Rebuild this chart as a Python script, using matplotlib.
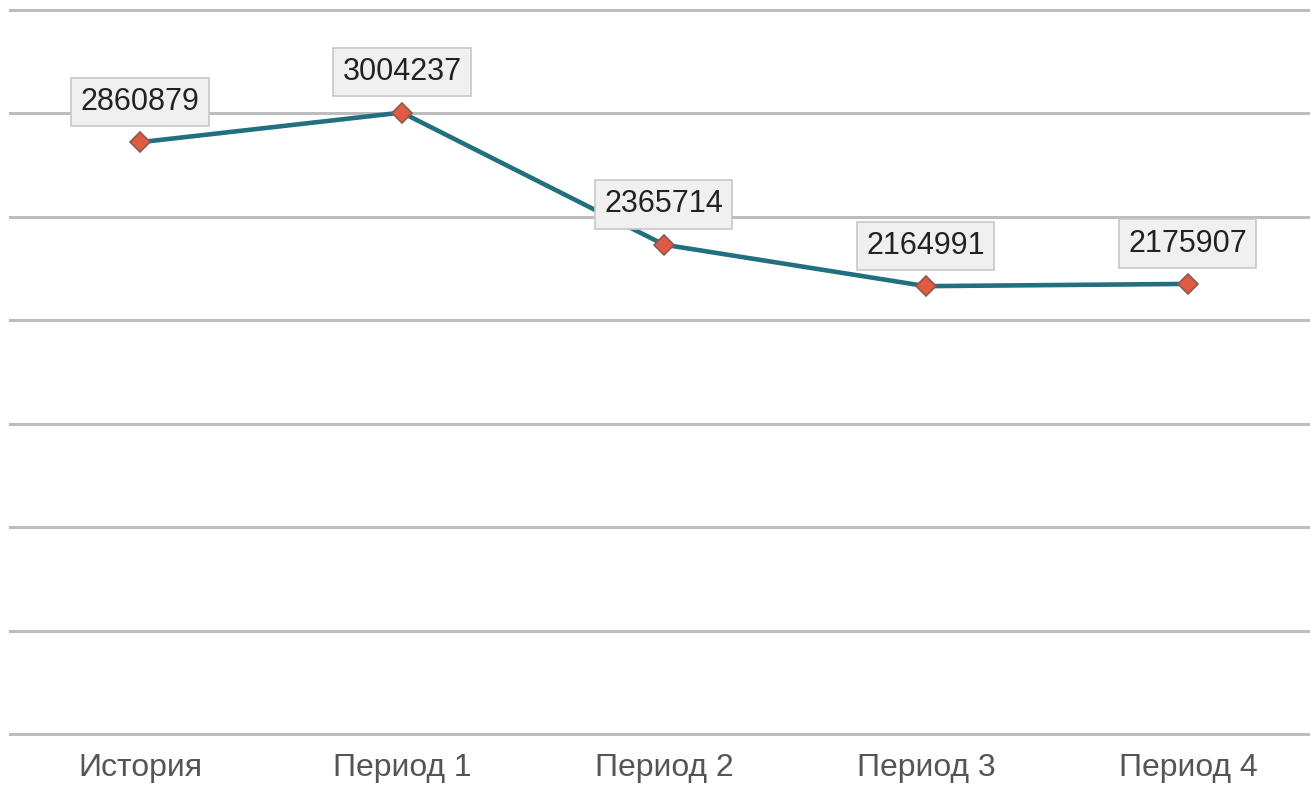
import matplotlib.pyplot as plt

# ================= DATA =================
categories = ["История", "Период 1", "Период 2", "Период 3", "Период 4"]
values = [2860879, 3004237, 2365714, 2164991, 2175907]

plt.rcParams['font.family'] = ['Liberation Sans', 'DejaVu Sans']

# ================= PLOT =================
fig = plt.figure(figsize=(13.1, 7.85), dpi=100)
ax = fig.add_axes([10 / 1310, 51 / 785, 1300 / 1310, 724 / 785])

x = list(range(len(categories)))

ax.plot(x, values, color='#22707f', lw=3.3, zorder=3)
ax.plot(x, values, linestyle='none', marker='D', ms=10,
        markerfacecolor='#e05a44', markeredgecolor='#8a5a50',
        markeredgewidth=1.2, zorder=4)

for xi, v in zip(x, values):
    ax.annotate(
        str(v), (xi, v),
        xytext=(0, 29), textcoords='offset points',
        ha='center', va='center', fontsize=22, color='#222222',
        bbox=dict(boxstyle='square,pad=0.3', fc='#f0f0f0',
                  ec='#c8c8c8', lw=1.2),
        zorder=5,
    )

ax.set_ylim(0, 3500000)
ax.set_xlim(-0.496, 4.466)
ax.set_yticks(range(0, 3500001, 500000))
for gy in range(0, 3500001, 500000):
    ax.axhline(gy, color='#bdbdbd', lw=2.2, zorder=1, clip_on=False)
ax.tick_params(axis='y', left=False, labelleft=False)
ax.tick_params(axis='x', bottom=False, labelsize=23, labelcolor='#555555', pad=10)
ax.set_xticks(x)
ax.set_xticklabels(categories)

for s in ax.spines.values():
    s.set_visible(False)

fig.savefig("out.png", dpi=100)
